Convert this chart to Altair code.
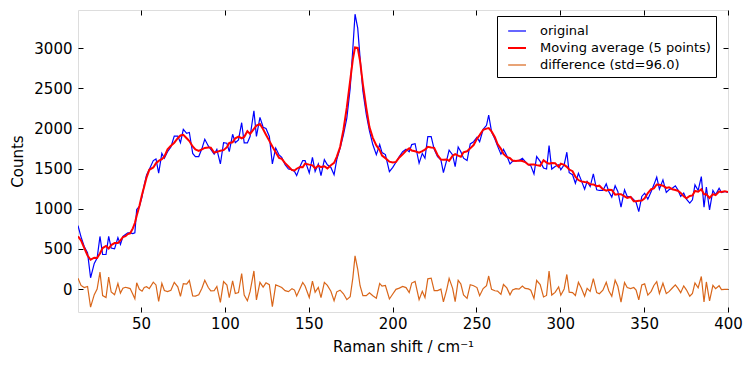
import altair as alt
import pandas as pd

# Raman shift (cm^-1) and counts
shift = [12.4, 14.2, 16.1, 18.1, 19.9, 22.1, 23.8, 25.5, 27.1, 29.1, 30.7, 32.2, 34.2, 36.2, 37.7,
         39.2, 40.7, 42.1, 43.5, 45.1, 46.3, 47.4, 49.0, 50.6, 51.9, 53.3, 54.9, 57.3, 58.9, 60.5,
         62.4, 63.9, 65.8, 67.8, 69.8, 71.9, 73.5, 75.2, 77.2, 78.8, 80.8, 82.4, 84.4, 86.3, 88.0,
         90.1, 91.6, 93.6, 95.2, 97.3, 99.2, 101.2, 102.6, 104.6, 106.2, 108.1, 110.0, 111.5, 113.4,
         115.0, 117.3, 118.8, 120.9, 122.8, 124.5, 126.5, 128.3, 130.3, 132.3, 133.9, 135.9, 137.9,
         140.0, 141.5, 142.8, 144.8, 146.4, 147.8, 150.3, 152.2, 153.8, 155.7, 157.3, 159.3, 161.1,
         163.2, 165.1, 166.7, 168.7, 170.7, 172.7, 174.7, 176.3, 177.6, 179.2, 180.6, 182.3, 184.3,
         186.2, 188.2, 190.3, 192.3, 193.7, 195.7, 198.1, 200.1, 202.0, 204.0, 206.0, 208.0, 209.9,
         211.4, 213.4, 215.8, 217.7, 219.3, 221.0, 223.0, 224.8, 226.8, 228.8, 230.3, 232.3, 233.7,
         235.8, 237.3, 239.1, 240.7, 242.3, 244.4, 246.3, 248.3, 250.3, 251.9, 254.0, 256.0, 257.3,
         259.0, 261.0, 262.6, 264.6, 266.1, 268.1, 270.0, 271.5, 273.5, 275.4, 277.4, 279.0, 281.0,
         282.4, 284.3, 285.9, 288.0, 290.0, 291.8, 293.3, 294.9, 296.9, 299.0, 300.3, 302.3, 303.9,
         305.3, 307.3, 309.0, 310.8, 312.4, 314.5, 316.0, 317.8, 319.7, 321.7, 323.3, 325.4, 327.4,
         328.9, 330.7, 332.7, 334.3, 336.2, 338.3, 339.9, 341.9, 343.8, 345.2, 346.8, 348.6, 350.3,
         352.2, 354.2, 355.8, 357.5, 359.1, 361.2, 363.2, 364.8, 366.8, 368.6, 370.1, 371.8, 373.6,
         375.2, 377.2, 378.8, 380.3, 382.2, 384.1, 385.7, 387.1, 389.0, 391.0, 392.6, 394.7, 396.1,
         398.1, 400.0]
counts = [790, 650, 530, 450, 140, 320, 385, 655, 430, 430, 655, 510, 500, 640, 555,
          655, 680, 700, 700, 690, 700, 990, 1030, 1150, 1297, 1420, 1490, 1600, 1620, 1443,
          1690, 1630, 1710, 1770, 1906, 1906, 1823, 1990, 1940, 1950, 1690, 1650, 1650, 1750, 1866,
          1783, 1740, 1680, 1740, 1558, 1823, 1816, 1712, 1928, 1823, 1857, 2072, 1820, 1820,
          1900, 2221, 1900, 2139, 2015, 2000, 1900, 1558, 1756, 1670, 1640, 1548, 1495,
          1487, 1465, 1413, 1528, 1600, 1600, 1445, 1640, 1465, 1558, 1413, 1612, 1548,
          1515, 1425, 1612, 1756, 1925, 2130, 2500, 3000, 3424, 3250, 2880, 2465, 2175,
          1970, 1800, 1675, 1800, 1700, 1675, 1463, 1515, 1580, 1650, 1710, 1740, 1710,
          1800, 1810, 1567, 1690, 1630, 1898, 1898, 1740, 1650, 1610, 1450, 1610, 1730,
          1670, 1525, 1770, 1710, 1630, 1600, 1807, 1835, 1890, 1835, 1990, 2040, 2168,
          1960, 1870, 1780, 1680, 1740, 1660, 1558, 1590, 1600, 1600, 1630, 1590, 1550,
          1537, 1434, 1650, 1590, 1507, 1495, 1786, 1495, 1527, 1548, 1486, 1548, 1704,
          1450, 1424, 1318, 1442, 1360, 1244, 1340, 1277, 1434, 1236, 1228, 1228, 1310,
          1215, 1145, 1286, 1215, 1020, 1236, 1153, 1153, 1112, 1080, 965, 1153, 1194,
          1120, 1215, 1298, 1393, 1244, 1360, 1203, 1236, 1256, 1286, 1236, 1153, 1194,
          1120, 1070, 1112, 1298, 1228, 1400, 1020, 1269, 987, 1228, 1174, 1256, 1203,
          1215, 1203]

series_names = ["original", "Moving average (5 points)", "difference (std=96.0)"]
series_colors = ["#0000ff", "#ff0000", "#d9661a"]
series_widths = [1.2, 2.0, 1.2]
x_ticks = [50, 100, 150, 200, 250, 300, 350, 400]
y_ticks = [0, 500, 1000, 1500, 2000, 2500, 3000]

orig = pd.Series(counts, dtype=float)
moving = orig.rolling(5, center=True, min_periods=1).mean()
difference = orig - moving

df = pd.concat([
    pd.DataFrame({"shift": shift, "value": orig, "series": series_names[0]}),
    pd.DataFrame({"shift": shift, "value": moving, "series": series_names[1]}),
    pd.DataFrame({"shift": shift, "value": difference, "series": series_names[2]}),
], ignore_index=True)

FONT = "DejaVu Sans"
x_scale = alt.Scale(domain=[12.4, 400], nice=False, zero=False)
y_scale = alt.Scale(domain=[-286, 3476], nice=False, zero=False)

legend = alt.Legend(
    title=None, orient="none", legendX=419, legendY=6,
    symbolType="stroke", symbolSize=324, symbolOffset=5, labelOffset=13,
    rowPadding=0, padding=5, labelFont=FONT, labelFontSize=13, labelColor="black",
    labelLimit=300, strokeColor="black", fillColor="white", cornerRadius=0,
)
color = alt.Color("series:N", scale=alt.Scale(domain=series_names, range=series_colors), legend=legend)
width_enc = alt.StrokeWidth("series:N", scale=alt.Scale(type="ordinal", domain=series_names,
                                                         range=series_widths), legend=legend)

common_axis = dict(grid=False, domain=False, tickColor="black", tickWidth=1, tickSize=5, offset=-5,
                   labelFont=FONT, labelFontSize=15, labelColor="black", labelFlush=False,
                   titleFont=FONT, titleFontSize=15, titleFontWeight="normal", titleColor="black")

ax_bottom = alt.Axis(orient="bottom", values=x_ticks, format="d", labelPadding=4,
                     title="Raman shift / cm⁻¹", titlePadding=8, labelOverlap=False, **common_axis)
ax_top = alt.Axis(orient="top", values=x_ticks, labels=False, title=None, **common_axis)
ax_left = alt.Axis(orient="left", values=y_ticks, format="d", labelPadding=6, title="Counts",
                   titlePadding=8, **common_axis)
ax_right = alt.Axis(orient="right", values=y_ticks, labels=False, title=None, **common_axis)

base = alt.Chart(df)

l1 = base.transform_filter(alt.datum.series == series_names[0]).mark_line(clip=True).encode(
    x=alt.X("shift:Q", scale=x_scale, axis=ax_bottom),
    y=alt.Y("value:Q", scale=y_scale, axis=ax_left),
    color=color, strokeWidth=width_enc,
)
l2 = base.transform_filter(alt.datum.series == series_names[1]).mark_line(clip=True).encode(
    x=alt.X("shift:Q", scale=x_scale, axis=ax_top),
    y=alt.Y("value:Q", scale=y_scale, axis=ax_right),
    color=color, strokeWidth=width_enc,
)
l3 = base.transform_filter(alt.datum.series == series_names[2]).mark_line(clip=True).encode(
    x=alt.X("shift:Q", scale=x_scale, axis=None),
    y=alt.Y("value:Q", scale=y_scale, axis=None),
    color=color, strokeWidth=width_enc,
)

chart = alt.layer(l1, l2, l3).resolve_axis(x="independent", y="independent").properties(
    width=650, height=302,
    autosize=alt.AutoSizeParams(type="none"),
    padding={"left": 70, "top": 2, "right": 16, "bottom": 48},
).configure_view(stroke="black", strokeWidth=1).configure(background="white")

chart.save("out.html", embed_options={"renderer": "svg", "actions": False})
